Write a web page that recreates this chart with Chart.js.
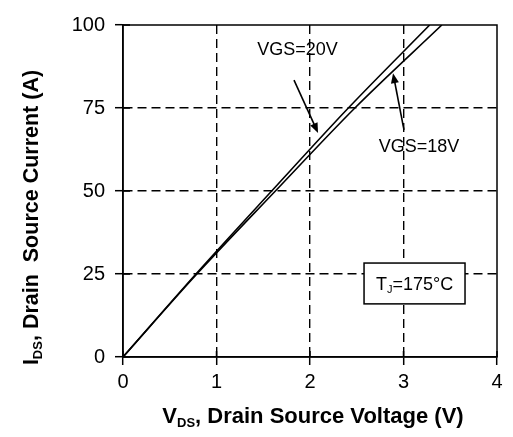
<!DOCTYPE html>
<html>
<head>
<meta charset="utf-8">
<script src="https://cdn.jsdelivr.net/npm/chart.js@4.4.1/dist/chart.umd.min.js"></script>
<style>
  html, body { margin: 0; padding: 0; background: #fff; }
  #wrap { width: 513px; height: 437px; }
</style>
</head>
<body>
<div id="wrap"><canvas id="c" width="513" height="437"></canvas></div>
<script>
// Output characteristic at Tj = 175 °C
const vds20 = [0, 0.78, 1.59, 2.41, 3.28];   // V, VGS = 20 V
const ids20 = [0, 25, 50, 75, 100];          // A
const vds18 = [0, 0.79, 1.63, 2.48, 3.41];   // V, VGS = 18 V
const ids18 = [0, 25, 50, 75, 100];          // A
const xTicks = [0, 1, 2, 3, 4];
const yTicks = [0, 25, 50, 75, 100];

const FONT = '"Liberation Sans", Arial, sans-serif';
const INK = '#000';

// callouts, in data units
const notes = {
  vgs20: { text: 'VGS=20V', x: 1.866, y: 92.5, tail: [1.829, 83.4], tip: [2.086, 67.5] },
  vgs18: { text: 'VGS=18V', x: 3.166, y: 63.3, tail: [3.005, 68.4], tip: [2.888, 85.5] },
  tj: { box: [2.578, 16.0, 3.658, 28.3] }
};

function toPoints(xs, ys) { return xs.map((x, i) => ({ x: x, y: ys[i] })); }

// draw a run of text pieces (main text + subscripts) centred on x
function richText(ctx, parts, cx, y) {
  let w = 0;
  parts.forEach(p => { ctx.font = p.font; w += ctx.measureText(p.t).width; });
  let x = cx - w / 2;
  ctx.textAlign = 'left';
  ctx.textBaseline = 'alphabetic';
  parts.forEach(p => {
    ctx.font = p.font;
    ctx.fillText(p.t, x, y + (p.dy || 0));
    x += ctx.measureText(p.t).width;
  });
}

function arrow(ctx, x0, y0, x1, y1) {
  const a = Math.atan2(y1 - y0, x1 - x0);
  const L = 10, H = 4;
  ctx.beginPath();
  ctx.moveTo(x0, y0);
  ctx.lineTo(x1 - Math.cos(a) * L * 0.8, y1 - Math.sin(a) * L * 0.8);
  ctx.lineWidth = 1.6;
  ctx.stroke();
  ctx.beginPath();
  ctx.moveTo(x1, y1);
  ctx.lineTo(x1 - Math.cos(a) * L + Math.sin(a) * H, y1 - Math.sin(a) * L - Math.cos(a) * H);
  ctx.lineTo(x1 - Math.cos(a) * L - Math.sin(a) * H, y1 - Math.sin(a) * L + Math.cos(a) * H);
  ctx.closePath();
  ctx.fill();
}

const decor = {
  id: 'decor',
  afterDraw(chart) {
    const { ctx, chartArea: ca, scales: { x, y } } = chart;
    ctx.save();
    ctx.strokeStyle = INK;
    ctx.fillStyle = INK;
    ctx.setLineDash([]);

    // frame
    ctx.lineWidth = 1.5;
    ctx.strokeRect(ca.left, ca.top, ca.right - ca.left, ca.bottom - ca.top);

    // inner tick stubs
    ctx.beginPath();
    xTicks.forEach(v => { const px = x.getPixelForValue(v); ctx.moveTo(px, ca.bottom); ctx.lineTo(px, ca.bottom - 6); });
    yTicks.forEach(v => { const py = y.getPixelForValue(v); ctx.moveTo(ca.left, py); ctx.lineTo(ca.left + 7, py); });
    ctx.stroke();

    // callouts
    [notes.vgs20, notes.vgs18].forEach(n => {
      ctx.font = '18px ' + FONT;
      ctx.textAlign = 'center';
      ctx.textBaseline = 'middle';
      ctx.fillText(n.text, x.getPixelForValue(n.x), y.getPixelForValue(n.y));
      arrow(ctx, x.getPixelForValue(n.tail[0]), y.getPixelForValue(n.tail[1]),
                 x.getPixelForValue(n.tip[0]), y.getPixelForValue(n.tip[1]));
    });

    // junction temperature box
    const b = notes.tj.box;
    const bx0 = x.getPixelForValue(b[0]), bx1 = x.getPixelForValue(b[2]);
    const by0 = y.getPixelForValue(b[3]), by1 = y.getPixelForValue(b[1]);
    ctx.fillStyle = '#fff';
    ctx.fillRect(bx0, by0, bx1 - bx0, by1 - by0);
    ctx.fillStyle = INK;
    ctx.lineWidth = 1.5;
    ctx.strokeRect(bx0, by0, bx1 - bx0, by1 - by0);
    richText(ctx, [
      { t: 'T', font: '18px ' + FONT },
      { t: 'J', font: '11px ' + FONT, dy: 3 },
      { t: '=175°C', font: '18px ' + FONT }
    ], (bx0 + bx1) / 2, (by0 + by1) / 2 + 6.5);

    // x axis title
    richText(ctx, [
      { t: 'V', font: 'bold 22px ' + FONT },
      { t: 'DS', font: 'bold 13px ' + FONT, dy: 4 },
      { t: ', Drain Source Voltage (V)', font: 'bold 22px ' + FONT }
    ], (ca.left + ca.right) / 2 + 3, 423);

    // y axis title
    ctx.save();
    ctx.translate(38, 217.5);
    ctx.rotate(-Math.PI / 2);
    richText(ctx, [
      { t: 'I', font: 'bold 21.5px ' + FONT },
      { t: 'DS', font: 'bold 13px ' + FONT, dy: 4 },
      { t: ', Drain  Source Current (A)', font: 'bold 21.5px ' + FONT }
    ], 0, 0);
    ctx.restore();

    ctx.restore();
  }
};

const lineStyle = {
  borderColor: INK,
  borderWidth: 1.6,
  pointRadius: 0,
  showLine: true,
  fill: false,
  tension: 0.3,
  cubicInterpolationMode: 'monotone'
};

new Chart(document.getElementById('c'), {
  type: 'scatter',
  data: {
    datasets: [
      Object.assign({ label: 'VGS=20V', data: toPoints(vds20, ids20) }, lineStyle),
      Object.assign({ label: 'VGS=18V', data: toPoints(vds18, ids18) }, lineStyle)
    ]
  },
  options: {
    responsive: false,
    animation: false,
    devicePixelRatio: 1,
    layout: { padding: { left: 0, right: 16, top: 25, bottom: 0 } },
    plugins: { legend: { display: false }, tooltip: { enabled: false } },
    scales: {
      x: {
        type: 'linear', min: 0, max: 4,
        afterBuildTicks: s => { s.ticks = xTicks.map(v => ({ value: v })); },
        afterFit: s => { s.height = 80; },
        ticks: { color: INK, font: { family: FONT, size: 20 }, padding: 5, maxRotation: 0 },
        grid: {
          color: c => (c.tick && c.tick.value > 0 && c.tick.value < 4) ? INK : 'rgba(0,0,0,0)',
          lineWidth: 1.4,
          tickColor: INK, tickLength: 8, tickWidth: 1.5, tickBorderDash: []
        },
        border: { display: true, color: INK, width: 1.5, dash: [9, 5] }
      },
      y: {
        type: 'linear', min: 0, max: 100,
        afterBuildTicks: s => { s.ticks = yTicks.map(v => ({ value: v })); },
        afterFit: s => { s.width = 123; },
        ticks: { color: INK, font: { family: FONT, size: 20 }, padding: 10 },
        grid: {
          color: c => (c.tick && c.tick.value > 0 && c.tick.value < 100) ? INK : 'rgba(0,0,0,0)',
          lineWidth: 1.4,
          tickColor: INK, tickLength: 8, tickWidth: 1.5, tickBorderDash: []
        },
        border: { display: true, color: INK, width: 1.5, dash: [9, 5] }
      }
    }
  },
  plugins: [decor]
});
</script>
</body>
</html>
